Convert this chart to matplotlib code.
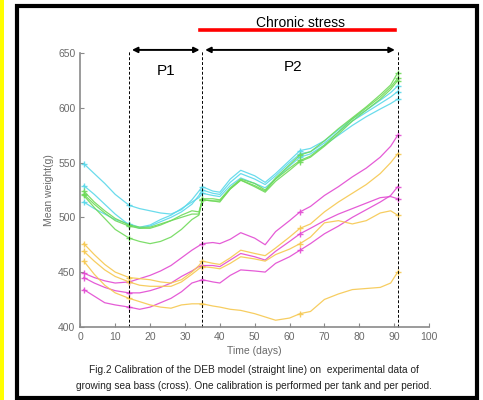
import matplotlib
matplotlib.use("Agg")
import matplotlib.pyplot as plt
from matplotlib.patches import Rectangle
from matplotlib.lines import Line2D

plt.rcParams['font.family'] = ['Liberation Sans', 'DejaVu Sans']

# sampling days shared by all curves
days = [1, 4, 7, 10, 14, 17, 20, 23, 26, 29, 32, 34, 35, 38, 40, 43, 46, 50,
        53, 56, 60, 63, 66, 70, 74, 78, 82, 86, 89, 91]
obs_idx = [0, 4, 12, 21, 29]  # crosses at days 1, 14, 35, 63, 91

cyan1 = [549, 540, 531, 521, 511, 508, 506, 504, 503, 507, 516, 524, 528, 524, 523, 535, 543, 538,
         532, 540, 552, 561, 563, 570, 580, 590, 598, 607, 614, 620]
cyan2 = [529, 521, 512, 503, 493, 490, 492, 496, 500, 505, 512, 520, 525, 522, 521, 532, 540, 535,
         530, 538, 550, 558, 560, 568, 578, 588, 596, 604, 610, 615]
cyan3 = [514, 508, 503, 498, 494, 491, 493, 498, 502, 508, 514, 518, 522, 520, 519, 529, 536, 531,
         527, 535, 547, 555, 558, 566, 575, 584, 592, 599, 604, 608]
green1 = [524, 514, 506, 499, 493, 491, 491, 494, 497, 500, 503, 503, 517, 517, 516, 527, 535, 531,
          525, 536, 548, 557, 560, 570, 581, 591, 601, 612, 621, 632]
green2 = [521, 512, 504, 497, 492, 490, 490, 493, 497, 502, 506, 505, 516, 515, 514, 526, 534, 529,
          524, 535, 545, 552, 556, 566, 578, 590, 600, 610, 619, 627]
green3 = [520, 509, 499, 489, 481, 478, 476, 478, 482, 489, 498, 502, 516, 515, 515, 526, 534, 528,
          523, 533, 543, 551, 555, 565, 576, 588, 598, 608, 617, 625]
mag1 = [449, 445, 442, 440, 441, 444, 447, 451, 456, 463, 470, 474, 476, 477, 476, 480, 486, 481,
        475, 487, 497, 505, 510, 520, 528, 537, 545, 555, 565, 575]
mag2 = [445, 440, 436, 433, 431, 431, 433, 436, 440, 446, 451, 455, 456, 456, 455, 461, 467, 464,
        461, 469, 478, 485, 490, 497, 503, 508, 513, 518, 519, 517]
mag3 = [434, 428, 422, 420, 418, 416, 418, 422, 426, 432, 440, 442, 443, 441, 440, 447, 452, 451,
        450, 458, 464, 470, 476, 485, 492, 500, 507, 514, 520, 528]
yel1 = [476, 466, 457, 450, 445, 444, 443, 441, 440, 443, 450, 456, 460, 458, 457, 463, 470, 467,
        465, 472, 482, 490, 494, 505, 514, 522, 530, 540, 550, 558]
yel2 = [469, 460, 452, 446, 441, 438, 437, 437, 437, 441, 448, 453, 455, 454, 453, 458, 464, 462,
        460, 466, 471, 476, 482, 495, 497, 494, 497, 504, 506, 502]
yel3 = [460, 448, 438, 431, 426, 423, 420, 418, 417, 420, 421, 421, 421, 419, 418, 416, 415, 412,
        409, 406, 408, 412, 414, 425, 430, 434, 435, 436, 440, 450]

series = [(cyan1, '#5ad8ea'), (cyan2, '#5ad8ea'), (cyan3, '#5ad8ea'),
          (green1, '#6fda5a'), (green2, '#6fda5a'), (green3, '#6fda5a'),
          (mag1, '#e24ad2'), (mag2, '#e24ad2'), (mag3, '#e24ad2'),
          (yel1, '#f6c850'), (yel2, '#f6c850'), (yel3, '#f6c850')]

period_bounds = [14, 35, 91]

fig = plt.figure(figsize=(4.83, 4.0), dpi=100)
fig.patch.set_facecolor('white')

# yellow strip and black frame
fig.add_artist(Rectangle((0, 0), 0.009, 1, transform=fig.transFigure, color='#ffff00', lw=0))
fig.add_artist(Rectangle((0.035, 0.006), 0.953, 0.98, transform=fig.transFigure,
                         fill=False, ec='black', lw=3))

ax = fig.add_axes([0.1663, 0.183, 0.722, 0.684])
for vals, col in series:
    ax.plot(days, vals, color=col, lw=0.9, alpha=0.9, marker='+', markersize=5,
            markevery=obs_idx, markeredgewidth=1.0)

ax.set_xlim(0, 100)
ax.set_ylim(400, 650)
ax.set_xticks(range(0, 101, 10))
ax.set_yticks(range(400, 651, 50))
for s in ['top', 'right']:
    ax.spines[s].set_visible(False)
for s in ['left', 'bottom']:
    ax.spines[s].set_color('#8a8a8a')
    ax.spines[s].set_linewidth(1.2)
ax.tick_params(direction='in', length=3, color='#8a8a8a', labelsize=7.5, labelcolor='#6a6a6a')
ax.set_xlabel('Time (days)', fontsize=7.5, color='#6a6a6a', labelpad=3)
ax.set_ylabel('Mean weight(g)', fontsize=7.5, color='#6a6a6a', labelpad=3)

# period markers
for d in period_bounds:
    ax.plot([d, d], [400, 653], ls='--', color='black', lw=0.7, dashes=(3, 2), clip_on=False)
ax.annotate('', xy=(14, 653), xytext=(35, 653), annotation_clip=False,
            arrowprops=dict(arrowstyle='<|-|>', color='black', lw=1.4, mutation_scale=8))
ax.annotate('', xy=(35, 653), xytext=(91, 653), annotation_clip=False,
            arrowprops=dict(arrowstyle='<|-|>', color='black', lw=1.4, mutation_scale=8))
ax.text(24.5, 634, 'P1', fontsize=11, ha='center', va='center')
ax.text(61, 637, 'P2', fontsize=11, ha='center', va='center')

# chronic stress bar
fig.add_artist(Line2D([200 / 483, 395 / 483], [1 - 29.5 / 400] * 2, transform=fig.transFigure,
                      color='#ff0000', lw=2.6))
fig.text(301 / 483, 1 - 23 / 400, 'Chronic stress', fontsize=10, ha='center', va='center')

fig.text(254 / 483, 1 - 370 / 400,
         'Fig.2 Calibration of the DEB model (straight line) on  experimental data of',
         fontsize=7.3, ha='center', va='center', color='#222222')
fig.text(254 / 483, 1 - 386 / 400,
         'growing sea bass (cross). One calibration is performed per tank and per period.',
         fontsize=7.3, ha='center', va='center', color='#222222')

fig.savefig('out.png', dpi=100)
